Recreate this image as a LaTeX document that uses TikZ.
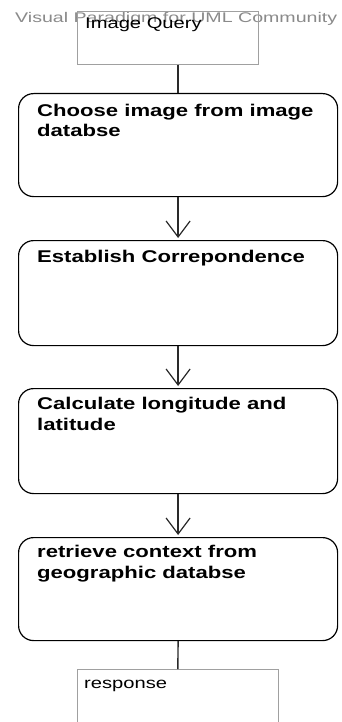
\documentclass[tikz,border=0pt]{standalone}
\usepackage{fontspec}
\setmainfont{Liberation Sans}
\newfontfamily\boxfont[FakeStretch=1.3]{Liberation Sans}
\newfontfamily\markfont[FakeStretch=1.4]{Liberation Sans}
\usetikzlibrary{arrows.meta,calc}
\definecolor{markgray}{HTML}{8A8A8A}
\definecolor{thinborder}{HTML}{A0A0A0}
\definecolor{connline}{HTML}{2A2A2A}
\tikzset{
  actbox/.style={draw=black, line width=1.2pt, rounded corners=15pt, minimum width=319pt, anchor=north west, inner sep=0pt},
  objbox/.style={draw=thinborder, line width=0.7pt, anchor=north west, inner sep=0pt},
  acttext/.style={anchor=base west, inner sep=0pt, align=left, font=\boxfont\bfseries\fontsize{17}{20.5}\selectfont},
  objtext/.style={anchor=base west, inner sep=0pt, font=\boxfont\fontsize{15.5}{18}\selectfont},
  conn/.style={draw=connline, line width=1.4pt},
  arr/.style={conn, -{Straight Barb[length=16pt,width=24pt,line width=1.2pt]}, shorten >=2pt}
}
\begin{document}
\begin{tikzpicture}[x=1pt,y=-1pt]
\clip (0,0) rectangle (342,722);
\fill[white] (0,0) rectangle (342,722);
% watermark
\node[anchor=base west, inner sep=0pt, text=markgray, font=\markfont\fontsize{14}{16}\selectfont] (wm) at (15,23) {Visual Paradigm for UML Community};
% object boxes
\node[objbox, minimum width=181pt, minimum height=53pt] (q) at (77,11) {};
\node[objtext] (qt) at (85,29) {Image Query};
\node[objbox, minimum width=201pt, minimum height=70pt] (r) at (77,669) {};
\node[objtext] (rt) at (84,688) {response};
% activity boxes (multi-line texts are placed by the baseline of their last line)
\node[actbox, minimum height=103pt] (b1) at (18,93) {};
\node[acttext] (t1) at (37,137) {Choose image from image\\databse};
\node[actbox, minimum height=105pt] (b2) at (18,240) {};
\node[acttext] (t2) at (37,262) {Establish Correpondence};
\node[actbox, minimum height=105pt] (b3) at (18,388) {};
\node[acttext] (t3) at (37,430) {Calculate longitude and\\latitude};
\node[actbox, minimum height=103pt] (b4) at (18,537) {};
\node[acttext] (t4) at (37,578) {retrieve context from\\geographic databse};
% connectors
\draw[conn] (b1.north |- q.south) -- (b1.north);
\draw[arr] (b1.south) -- (b2.north);
\draw[arr] (b2.south) -- (b3.north);
\draw[arr] (b3.south) -- (b4.north);
\draw[conn] (b4.south) -- (r.north);
\end{tikzpicture}
\end{document}
